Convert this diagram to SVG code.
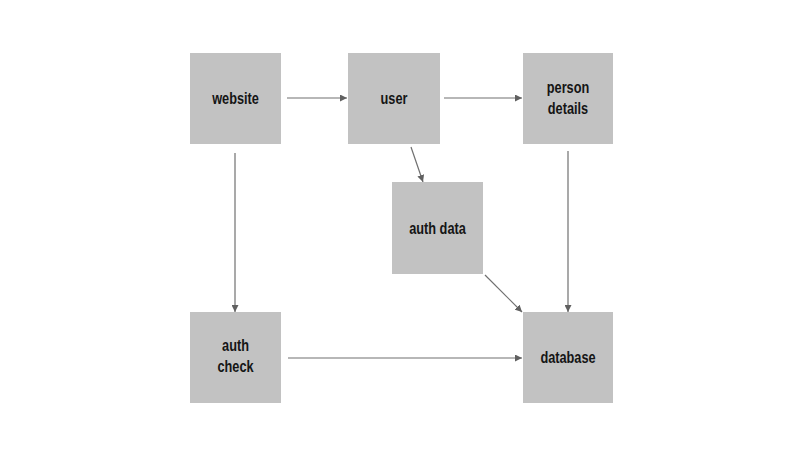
<svg xmlns="http://www.w3.org/2000/svg" width="800" height="450" viewBox="0 0 800 450">
<style>
.box{fill:#c2c2c2;}
.lbl{font-family:"Liberation Sans",Arial,sans-serif;font-weight:bold;font-size:17px;fill:#151515;text-anchor:middle;dominant-baseline:central;}
.edge{stroke:#707070;stroke-width:1.2;fill:none;marker-end:url(#ah);}
</style>
<defs>
<marker id="ah" viewBox="0 0 10 10" refX="10" refY="5" markerWidth="7" markerHeight="7" markerUnits="userSpaceOnUse" orient="auto">
<path d="M0,0 L10,5 L0,10 z" fill="#606060"/>
</marker>
</defs>
<rect width="800" height="450" fill="#ffffff"/>
<g id="connectors">
<line class="edge" x1="287" y1="98" x2="347" y2="98"/>
<line class="edge" x1="444" y1="98" x2="522" y2="98"/>
<line class="edge" x1="411" y1="147" x2="423" y2="182"/>
<line class="edge" x1="568" y1="151" x2="568" y2="312"/>
<line class="edge" x1="485" y1="275" x2="522" y2="312"/>
<line class="edge" x1="235" y1="153" x2="235" y2="312"/>
<line class="edge" x1="288" y1="358" x2="522" y2="358"/>
</g>
<g id="website"><rect class="box" x="190" y="53" width="91" height="91"/><text class="lbl" transform="translate(235.5,98) scale(0.75,1)">website</text></g>
<g id="user"><rect class="box" x="348" y="53" width="92" height="91"/><text class="lbl" transform="translate(394,98) scale(0.75,1)">user</text></g>
<g id="person-details"><rect class="box" x="523" y="53" width="90" height="91"/><text class="lbl" transform="translate(568,87) scale(0.75,1)">person</text><text class="lbl" transform="translate(568,108) scale(0.75,1)">details</text></g>
<g id="auth-data"><rect class="box" x="392" y="182" width="91" height="92"/><text class="lbl" transform="translate(437.5,228) scale(0.75,1)">auth data</text></g>
<g id="auth-check"><rect class="box" x="190" y="312" width="91" height="91"/><text class="lbl" transform="translate(235.5,345) scale(0.75,1)">auth</text><text class="lbl" transform="translate(235.5,366) scale(0.75,1)">check</text></g>
<g id="database"><rect class="box" x="523" y="312" width="90" height="91"/><text class="lbl" transform="translate(568,357) scale(0.75,1)">database</text></g>
</svg>
